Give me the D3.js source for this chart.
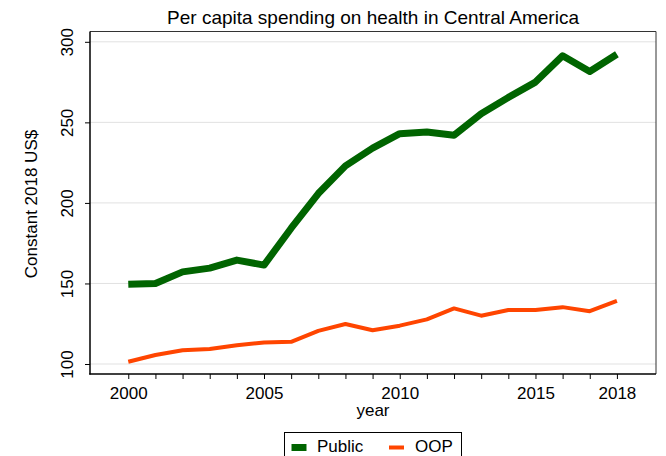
<!DOCTYPE html>
<html><head><meta charset="utf-8">
<script src="https://cdn.jsdelivr.net/npm/d3@7"></script>
<style>body{margin:0;background:#fff}svg{display:block}text{font-family:"Liberation Sans",Arial,sans-serif;fill:#000}</style>
</head><body><svg id="c" width="666" height="456"></svg>
<script>
const years = [2000,2001,2002,2003,2004,2005,2006,2007,2008,2009,2010,2011,2012,2013,2014,2015,2016,2017,2018];
const publicSpend = [149.5,150.0,157.2,159.5,164.5,161.4,184.3,205.8,223.0,234.0,243.0,244.0,242.0,255.4,265.5,275.0,291.3,281.6,292.3];
const oopSpend = [101.4,105.6,108.5,109.3,111.6,113.4,113.8,120.6,124.8,121.0,123.8,127.7,134.5,130.0,133.5,133.5,135.3,132.8,139.2];
const yTicks = [100,150,200,250,300];
const xTickLabels = [2000,2005,2010,2015,2018];
const seriesNames = ["Public","OOP"];
const seriesColors = ["#006400","#FF4500"];

const svg = d3.select("#c");
const L = 90, R = 656, T = 31.5, B = 374;
const x = d3.scaleLinear().domain([1998.59, 2019.44]).range([L, R]);
const y = d3.scaleLinear().domain([93.8, 306.4]).range([B, T]);

// grid
svg.append("g").selectAll("line").data(yTicks).join("line")
  .attr("x1", L).attr("x2", R).attr("y1", d => y(d)).attr("y2", d => y(d))
  .attr("stroke", "#e1e1e1").attr("stroke-width", 1);

// frame top/right
svg.append("path").attr("d", `M${L},${T}H${R}V${B}`).attr("fill","none").attr("stroke","#333").attr("stroke-width",1);

// lines
const line = d3.line().x((d,i) => x(years[i])).y(d => y(d));
svg.append("path").datum(publicSpend).attr("d", line).attr("fill","none")
  .attr("stroke", seriesColors[0]).attr("stroke-width", 7).attr("stroke-linejoin","round").attr("stroke-linecap","butt");
svg.append("path").datum(oopSpend).attr("d", line).attr("fill","none")
  .attr("stroke", seriesColors[1]).attr("stroke-width", 4).attr("stroke-linejoin","round").attr("stroke-linecap","butt");

// y axis
const ya = svg.append("g").attr("transform", `translate(${L},0)`)
  .call(d3.axisLeft(y).tickValues(yTicks).tickSize(5).tickFormat(d3.format("d")));
ya.select(".domain").remove();
ya.append("line").attr("x1",0).attr("x2",0).attr("y1",T).attr("y2",B+0.5).attr("stroke","#000").attr("stroke-width",1.5);
ya.selectAll(".tick line").attr("stroke","#000");
ya.selectAll(".tick text").attr("font-size", 17).attr("x", 0).attr("y", 0).attr("dy", 0)
  .attr("text-anchor","middle").attr("transform","translate(-17,0) rotate(-90)");

// x axis
const xa = svg.append("g").attr("transform", `translate(0,${B})`)
  .call(d3.axisBottom(x).tickValues(years).tickSize(5).tickFormat(d => xTickLabels.includes(d) ? String(d) : ""));
xa.select(".domain").remove();
xa.append("line").attr("x1",L-0.75).attr("x2",R).attr("y1",0).attr("y2",0).attr("stroke","#000").attr("stroke-width",1.5);
xa.selectAll(".tick line").attr("stroke","#000");
xa.selectAll(".tick text").attr("font-size", 17).attr("y", 25).attr("dy", 0);

// labels
svg.append("text").attr("x", 373).attr("y", 24).attr("text-anchor","middle").attr("font-size", 19)
  .text("Per capita spending on health in Central America");
svg.append("text").attr("x", 373).attr("y", 416).attr("text-anchor","middle").attr("font-size", 17).text("year");
svg.append("text").attr("transform", `translate(36.5,204) rotate(-90)`).attr("text-anchor","middle").attr("font-size", 17)
  .text("Constant 2018 US$");

// legend
const lg = svg.append("g");
lg.append("rect").attr("x", 284.5).attr("y", 432.5).attr("width", 177).attr("height", 40).attr("fill","#fff").attr("stroke","#000").attr("stroke-width",1);
const lx = [291.5, 389], tx = [317, 415];
seriesNames.forEach((n,i) => {
  lg.append("line").attr("x1", lx[i]).attr("x2", lx[i]+15).attr("y1", 447.5).attr("y2", 447.5)
    .attr("stroke", seriesColors[i]).attr("stroke-width", i===0 ? 7 : 4);
  lg.append("text").attr("x", tx[i]).attr("y", 452).attr("font-size", 17).text(n);
});
</script></body></html>
